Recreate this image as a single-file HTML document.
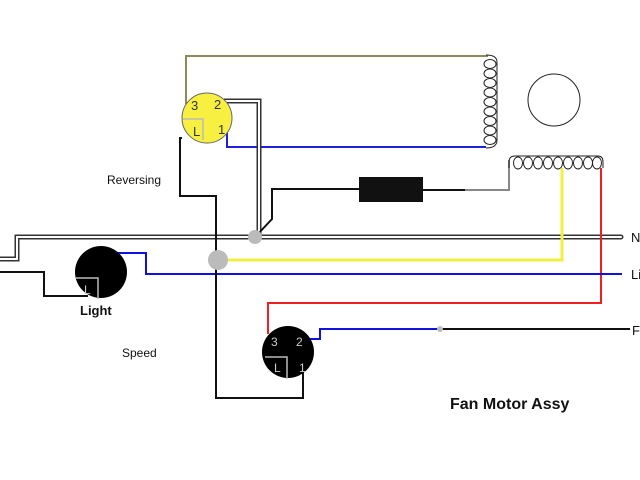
<!DOCTYPE html>
<html><head><meta charset="utf-8"><style>
html,body{margin:0;padding:0;background:#fff;}
svg{display:block;}
text{font-family:"Liberation Sans",sans-serif;}
</style></head><body>
<svg width="640" height="480" viewBox="0 0 640 480" xmlns="http://www.w3.org/2000/svg">
<rect width="640" height="480" fill="#fff"/>
<g fill="none" stroke-width="2">
<!-- olive wire -->
<polyline points="186,104 186,56 488,56" stroke="#8c8c5a"/>
<!-- vertical coil -->
<g stroke="#222" stroke-width="1">
<path d="M486,55 Q497,55 497,62 L497,140 Q497,148 486,148"/>
<ellipse cx="490" cy="64" rx="6" ry="4.5"/><ellipse cx="490" cy="73.5" rx="6" ry="4.5"/>
<ellipse cx="490" cy="83" rx="6" ry="4.5"/><ellipse cx="490" cy="92.5" rx="6" ry="4.5"/>
<ellipse cx="490" cy="102" rx="6" ry="4.5"/><ellipse cx="490" cy="111.5" rx="6" ry="4.5"/>
<ellipse cx="490" cy="121" rx="6" ry="4.5"/><ellipse cx="490" cy="130.5" rx="6" ry="4.5"/>
<ellipse cx="490" cy="140" rx="6" ry="4.5"/>
</g>
<!-- motor circle -->
<circle cx="554" cy="100" r="26" stroke="#222" stroke-width="1"/>
<!-- blue from switch 1 -->
<polyline points="227,132 227,147 486,147" stroke="#2020e0"/>
<!-- double white wire from 2 -->
<polyline points="224,101 259,101 259,235" stroke="#333" stroke-width="5"/>
<polyline points="224,101 259,101 259,235" stroke="#fff" stroke-width="2"/>
<!-- black to resistor -->
<polyline points="257,235 272,219 272,189 360,189" stroke="#111"/>
<rect x="359" y="177" width="64" height="25" fill="#111" stroke="none"/>
<polyline points="423,190 465,190" stroke="#111"/>
<polyline points="465,190 509,190 509,160" stroke="#888"/>
<!-- horizontal coil -->
<g stroke="#222" stroke-width="1">
<path d="M509,168 L509,162 Q509,156 515,156 L598,156 Q603,156 603,162 L603,168"/>
<ellipse cx="518" cy="163" rx="4.5" ry="6"/><ellipse cx="528" cy="163" rx="4.5" ry="6"/>
<ellipse cx="538" cy="163" rx="4.5" ry="6"/><ellipse cx="548" cy="163" rx="4.5" ry="6"/>
<ellipse cx="558" cy="163" rx="4.5" ry="6"/><ellipse cx="568" cy="163" rx="4.5" ry="6"/>
<ellipse cx="578" cy="163" rx="4.5" ry="6"/><ellipse cx="588" cy="163" rx="4.5" ry="6"/>
<ellipse cx="597" cy="163" rx="4.5" ry="6"/>
</g>
<!-- neutral double line -->
<polyline points="0,259 17,259 17,237 621,237" stroke="#333" stroke-width="5" stroke-linecap="round"/>
<polyline points="0,259 17,259 17,237 621,237" stroke="#fff" stroke-width="2" stroke-linecap="round"/>
<!-- yellow -->
<polyline points="562,168 562,260 218,260" stroke="#f0f040" stroke-width="3"/>
<!-- red -->
<polyline points="601,168 601,303 268,303 268,334" stroke="#f02020"/>
<!-- blue live -->
<polyline points="117,253 146,253 146,274 622,274" stroke="#1010e0"/>
<!-- black light feed -->
<polyline points="0,272 44,272 44,296 88,296" stroke="#111"/>
<!-- black from rev L down to speed -->
<polyline points="182,138 180,138 180,196 216,196 216,398 303,398 303,368" stroke="#111"/>
<!-- F line -->
<polyline points="310,339 320,339 320,329 440,329" stroke="#1010e0"/>
<polyline points="440,329 630,329" stroke="#111"/>
</g>
<circle cx="440" cy="329" r="3" fill="#bbb"/>
<circle cx="255" cy="237" r="7" fill="#bbb"/>
<circle cx="218" cy="260" r="10" fill="#bbb"/>
<!-- reversing switch -->
<circle cx="207" cy="118" r="25" fill="#f8f040" stroke="#666" stroke-width="1"/>
<polyline points="183,119 203,119 203,140" fill="none" stroke="#bbb" stroke-width="1.5"/>
<text x="191" y="110" font-size="13" fill="#333">3</text>
<text x="214" y="109" font-size="13" fill="#333">2</text>
<text x="218" y="134" font-size="13" fill="#333">1</text>
<text x="193" y="136" font-size="13" fill="#333">L</text>
<!-- light -->
<circle cx="101" cy="272" r="26" fill="#000"/>
<polyline points="76,278 98,278 98,299" fill="none" stroke="#bbb" stroke-width="1.5"/>
<text x="84" y="294" font-size="12" fill="#ccc">L</text>
<!-- speed switch -->
<circle cx="288" cy="352" r="26" fill="#000"/>
<polyline points="265,357 287,357 287,379" fill="none" stroke="#bbb" stroke-width="1.5"/>
<text x="271" y="346" font-size="12" fill="#ccc">3</text>
<text x="296" y="346" font-size="12" fill="#ccc">2</text>
<text x="299" y="372" font-size="12" fill="#ccc">1</text>
<text x="274" y="372" font-size="12" fill="#ccc">L</text>
<!-- labels -->
<text x="107" y="184" font-size="12" fill="#111">Reversing</text>
<text x="122" y="357" font-size="12" fill="#111">Speed</text>
<text x="80" y="315" font-size="13" font-weight="bold" fill="#111">Light</text>
<text x="450" y="409" font-size="16" font-weight="bold" fill="#111">Fan Motor Assy</text>
<text x="631" y="242" font-size="13" fill="#111">N</text>
<text x="631" y="279" font-size="13" fill="#111">Li</text>
<text x="632" y="335" font-size="13" fill="#111">F</text>
</svg>
</body></html>
